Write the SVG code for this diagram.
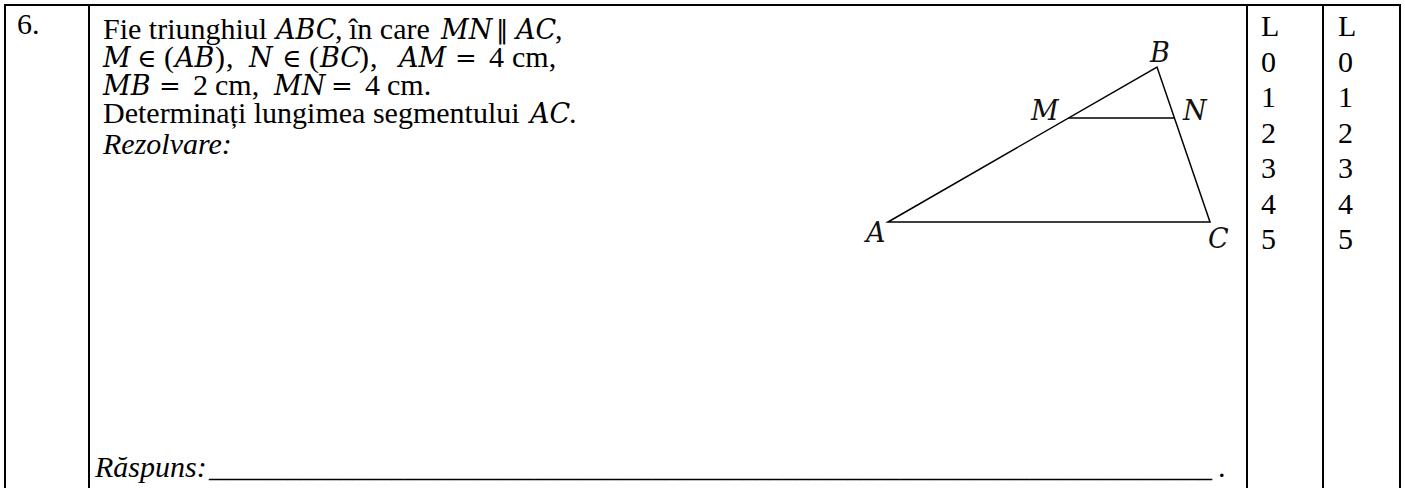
<svg xmlns="http://www.w3.org/2000/svg" width="1405" height="488" viewBox="0 0 1405 488">
<style>
.bg{fill:#fff}
.grid{stroke:#000;stroke-width:2;fill:none}
.tri{stroke:#000;stroke-width:1.5;fill:none;stroke-linecap:round}
text{font-family:"Liberation Serif","Times New Roman",serif;font-size:30px;fill:#000;white-space:pre}
.m{font-family:"DejaVu Serif","Liberation Serif",serif;font-style:italic;font-size:27px}
.s{font-family:"DejaVu Serif","DejaVu Sans",serif;font-size:26px}
.p{font-family:"DejaVu Sans","Liberation Sans",sans-serif;font-size:26px}
.it{font-style:italic}
.lbl{font-family:"DejaVu Serif","Liberation Serif",serif;font-style:italic;font-size:27px;fill:#111}
</style>
<rect class="bg" x="0" y="0" width="1405" height="488"/>
<g id="table">
  <line class="grid" x1="5" y1="5" x2="1400" y2="5"/>
  <line class="grid" x1="5" y1="4" x2="5" y2="488"/>
  <line class="grid" x1="89" y1="5" x2="89" y2="488"/>
  <line class="grid" x1="1247" y1="5" x2="1247" y2="488"/>
  <line class="grid" x1="1323" y1="5" x2="1323" y2="488"/>
  <line class="grid" x1="1400" y1="4" x2="1400" y2="488"/>
</g>
<g id="number"><text x="17" y="34">6.</text></g>
<g id="problem">
  <text y="39"><tspan x="103">Fie triunghiul</tspan><tspan class="m" x="276">ABC</tspan><tspan x="335">,</tspan><tspan x="349">în care</tspan><tspan class="m" x="441">MN</tspan><tspan class="p" x="496">∥</tspan><tspan class="m" x="516">AC</tspan><tspan x="555">,</tspan></text>
  <text y="67"><tspan class="m" x="103">M</tspan><tspan class="s" x="137">∈</tspan><tspan x="164">(</tspan><tspan class="m" x="175">AB</tspan><tspan x="215">)</tspan><tspan x="226">,</tspan><tspan class="m" x="249">N</tspan><tspan class="s" x="282">∈</tspan><tspan x="309">(</tspan><tspan class="m" x="320">BC</tspan><tspan x="359">)</tspan><tspan x="370">,</tspan><tspan class="m" x="399">AM</tspan><tspan class="s" x="455">=</tspan><tspan x="489">4</tspan><tspan x="512">cm,</tspan></text>
  <text y="95"><tspan class="m" x="103">MB</tspan><tspan class="s" x="159">=</tspan><tspan x="193">2</tspan><tspan x="215">cm,</tspan><tspan class="m" x="274">MN</tspan><tspan class="s" x="331">=</tspan><tspan x="365">4</tspan><tspan x="387">cm.</tspan></text>
  <text y="123"><tspan x="103">Determinați lungimea segmentului</tspan><tspan class="m" x="530">AC</tspan><tspan x="569">.</tspan></text>
  <text x="103" y="154" class="it">Rezolvare:</text>
</g>
<g id="answer">
  <text y="477"><tspan class="it" x="95">Răspuns:</tspan><tspan x="209" textLength="1003" lengthAdjust="spacingAndGlyphs">_____________________________________________________________________________</tspan><tspan x="1218">.</tspan></text>
</g>
<g id="figure">
  <g id="connectors">
    <polygon class="tri" points="888,222 1157,67 1210,222"/>
    <line class="tri" x1="1069" y1="118" x2="1174" y2="118"/>
  </g>
  <g id="label-A"><text class="lbl" x="866" y="242">A</text></g>
  <g id="label-B"><text class="lbl" x="1150" y="62">B</text></g>
  <g id="label-C"><text class="lbl" x="1208" y="248">C</text></g>
  <g id="label-M"><text class="lbl" x="1031" y="120">M</text></g>
  <g id="label-N"><text class="lbl" x="1183" y="120">N</text></g>
</g>
<g id="score1">
  <text x="1261" y="36">L</text>
  <text x="1261" y="71.5">0</text>
  <text x="1261" y="107">1</text>
  <text x="1261" y="142.5">2</text>
  <text x="1261" y="178">3</text>
  <text x="1261" y="213.5">4</text>
  <text x="1261" y="249">5</text>
</g>
<g id="score2">
  <text x="1338" y="36">L</text>
  <text x="1338" y="71.5">0</text>
  <text x="1338" y="107">1</text>
  <text x="1338" y="142.5">2</text>
  <text x="1338" y="178">3</text>
  <text x="1338" y="213.5">4</text>
  <text x="1338" y="249">5</text>
</g>
</svg>
